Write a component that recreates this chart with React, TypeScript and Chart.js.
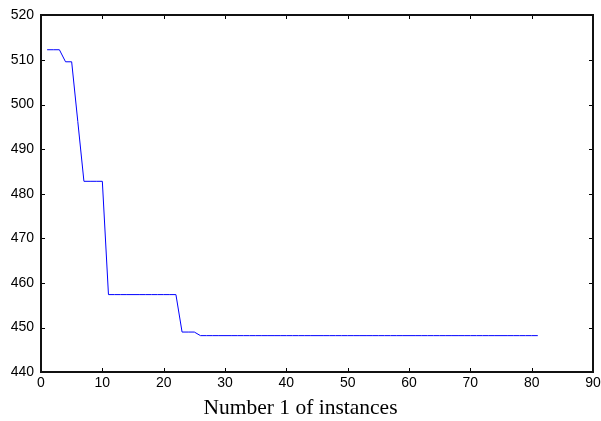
import { useEffect, useRef } from 'react';
import { Chart, registerables } from 'chart.js';

Chart.register(...registerables);

// Best objective value found after each instance (x = 1..81)
const bestValues: number[] = [
  512.3, 512.3, 512.3, 509.6, 509.6, 496.2, 482.8, 482.8, 482.8, 482.8,
  457.4, 457.4, 457.4, 457.4, 457.4, 457.4, 457.4, 457.4, 457.4, 457.4,
  457.4, 457.4, 449.0, 449.0, 449.0, 448.2, 448.2, 448.2, 448.2, 448.2,
  448.2, 448.2, 448.2, 448.2, 448.2, 448.2, 448.2, 448.2, 448.2, 448.2,
  448.2, 448.2, 448.2, 448.2, 448.2, 448.2, 448.2, 448.2, 448.2, 448.2,
  448.2, 448.2, 448.2, 448.2, 448.2, 448.2, 448.2, 448.2, 448.2, 448.2,
  448.2, 448.2, 448.2, 448.2, 448.2, 448.2, 448.2, 448.2, 448.2, 448.2,
  448.2, 448.2, 448.2, 448.2, 448.2, 448.2, 448.2, 448.2, 448.2, 448.2,
  448.2,
];
const xMin = 0;
const xMax = 90;
const xStep = 10;
const yMin = 440;
const yMax = 520;
const yStep = 10;
const xTitle = 'Number 1 of instances';

const boxPlugin = {
  id: 'matlabBox',
  afterDraw(chart: any) {
    const { ctx, chartArea, scales } = chart;
    const { left, right, top, bottom } = chartArea;
    const xs = scales.x;
    const ys = scales.y;
    const L = Math.round(left);
    const R = Math.round(right);
    const T = Math.round(top);
    const B = Math.round(bottom);
    const tl = 4;
    ctx.save();
    ctx.strokeStyle = '#000';
    ctx.lineWidth = 1;
    ctx.beginPath();
    for (const t of xs.ticks) {
      const px = Math.round(xs.getPixelForValue(t.value)) + 0.5;
      ctx.moveTo(px, B);
      ctx.lineTo(px, B - tl);
      ctx.moveTo(px, T);
      ctx.lineTo(px, T + tl);
    }
    for (const t of ys.ticks) {
      const py = Math.round(ys.getPixelForValue(t.value)) + 0.5;
      ctx.moveTo(L, py);
      ctx.lineTo(L + tl, py);
      ctx.moveTo(R, py);
      ctx.lineTo(R - tl, py);
    }
    ctx.stroke();
    ctx.strokeStyle = '#111';
    ctx.lineWidth = 2;
    ctx.strokeRect(L, T, R - L, B - T);
    ctx.restore();
  },
};

export default function App() {
  const ref = useRef<HTMLCanvasElement | null>(null);

  useEffect(() => {
    document.body.style.margin = '0';
    const canvas = ref.current;
    if (!canvas) return;
    const data = bestValues.map((v, i) => ({ x: i + 1, y: v }));
    const tickFont = { family: '"Liberation Sans", Arial, sans-serif', size: 14 };
    const chart = new Chart(canvas, {
      type: 'line',
      data: {
        datasets: [
          {
            data,
            borderColor: '#0000ff',
            borderWidth: 1,
            pointRadius: 0,
            fill: false,
            tension: 0,
          },
        ],
      },
      plugins: [boxPlugin],
      options: {
        animation: false,
        responsive: false,
        maintainAspectRatio: false,
        layout: { padding: { left: 0, right: 0, top: 15, bottom: 0 } },
        plugins: {
          legend: { display: false },
          tooltip: { enabled: false },
          title: {
            display: true,
            position: 'bottom',
            text: xTitle,
            color: '#000',
            font: { family: '"Liberation Serif", "Times New Roman", serif', size: 21.5, weight: 'normal' },
            padding: { top: 6, bottom: 0 },
          },
        },
        scales: {
          x: {
            type: 'linear',
            min: xMin,
            max: xMax,
            ticks: { stepSize: xStep, color: '#000', font: tickFont, padding: 3, maxRotation: 0 },
            grid: { display: false, drawTicks: false },
            border: { display: false },
            afterFit: (s: any) => {
              s.height = 17;
              s.paddingRight = 8;
              s.paddingLeft = 0;
            },
          },
          y: {
            type: 'linear',
            min: yMin,
            max: yMax,
            ticks: { stepSize: yStep, color: '#000', font: tickFont, padding: 7 },
            grid: { display: false, drawTicks: false },
            border: { display: false },
            afterFit: (s: any) => {
              s.width = 41;
            },
          },
        },
      },
    });
    return () => chart.destroy();
  }, []);

  return <canvas ref={ref} width={601} height={421} style={{ display: 'block' }} />;
}
